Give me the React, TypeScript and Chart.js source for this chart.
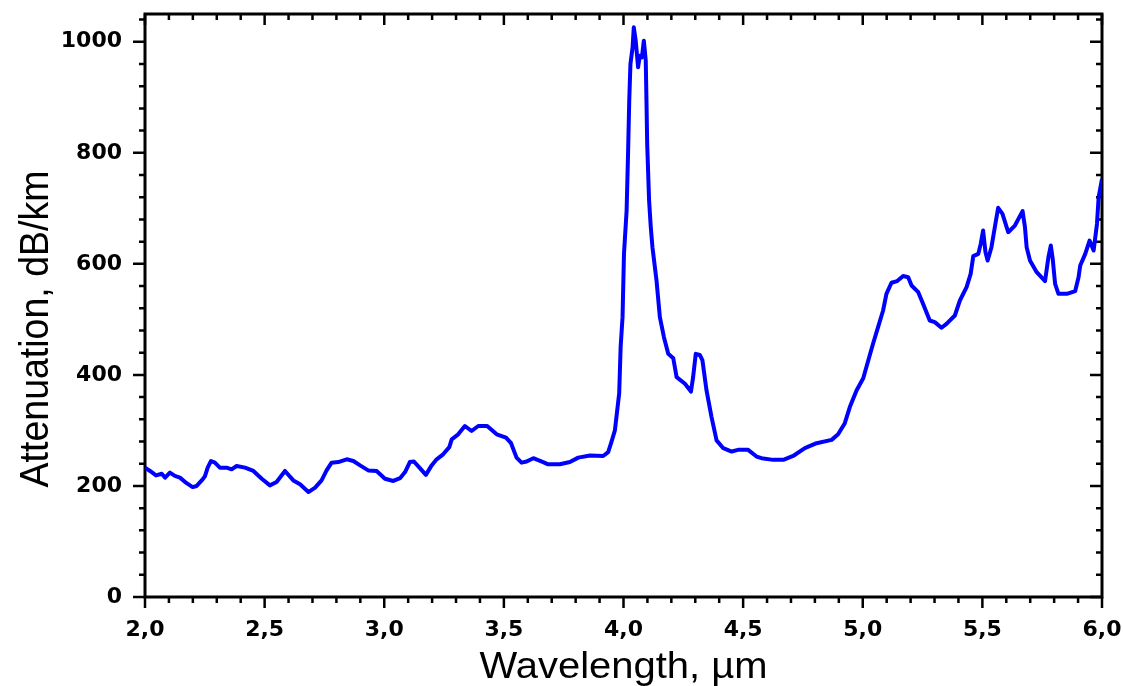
import React, { useEffect, useRef } from 'react';
import { Chart, registerables } from 'chart.js';

Chart.register(...registerables);

// Wavelength (µm) of each sampled point of the spectrum
const wavelengthUm = [
  2.0, 2.021, 2.046, 2.07, 2.084, 2.104, 2.125, 2.146, 2.174, 2.199, 2.216, 2.237, 2.25, 2.262, 2.276, 2.292,
  2.313, 2.341, 2.362, 2.383, 2.418, 2.453, 2.488, 2.522, 2.55, 2.585, 2.62, 2.648, 2.683, 2.711, 2.738, 2.759,
  2.78, 2.808, 2.843, 2.871, 2.899, 2.933, 2.968, 3.003, 3.038, 3.066, 3.087, 3.107, 3.124, 3.149, 3.174, 3.198,
  3.219, 3.246, 3.272, 3.282, 3.309, 3.337, 3.365, 3.393, 3.43, 3.47, 3.509, 3.53, 3.553, 3.574, 3.595, 3.623,
  3.664, 3.685, 3.734, 3.776, 3.811, 3.86, 3.915, 3.936, 3.95, 3.964, 3.982, 3.988, 3.996, 4.002, 4.013, 4.019,
  4.024, 4.029, 4.038, 4.043, 4.051, 4.061, 4.068, 4.077, 4.085, 4.093, 4.096, 4.099, 4.107, 4.114, 4.121, 4.138,
  4.152, 4.169, 4.187, 4.208, 4.222, 4.257, 4.282, 4.291, 4.302, 4.319, 4.33, 4.347, 4.368, 4.389, 4.417, 4.452,
  4.479, 4.521, 4.556, 4.577, 4.626, 4.668, 4.709, 4.758, 4.807, 4.87, 4.897, 4.925, 4.946, 4.974, 5.002, 5.023,
  5.043, 5.064, 5.085, 5.099, 5.12, 5.144, 5.169, 5.19, 5.204, 5.232, 5.252, 5.28, 5.301, 5.329, 5.35, 5.385,
  5.406, 5.434, 5.451, 5.462, 5.483, 5.493, 5.503, 5.513, 5.522, 5.538, 5.552, 5.566, 5.584, 5.608, 5.636, 5.668,
  5.678, 5.685, 5.699, 5.727, 5.762, 5.776, 5.786, 5.794, 5.804, 5.818, 5.853, 5.888, 5.902, 5.909, 5.93, 5.948,
  5.965, 5.979, 5.986, 6.0,
];

// Attenuation (dB/km) at each wavelength above
const attenuationDbKm = [
  233, 227, 219, 222, 215, 224, 218, 215, 205, 198, 200, 210, 217, 233, 245, 242,
  233, 233, 230, 236, 233, 227, 213, 201, 207, 227, 210, 203, 189, 197, 210, 228,
  242, 243, 248, 245, 237, 228, 227, 213, 209, 214, 225, 243, 244, 232, 220, 237,
  248, 257, 270, 284, 293, 308, 299, 308, 308, 293, 287, 277, 251, 242, 244, 250,
  243, 239, 239, 243, 251, 255, 254, 261, 280, 300, 367, 450, 504, 618, 696, 798,
  894, 960, 990, 1026, 1002, 954, 975, 972, 1002, 966, 894, 816, 714, 666, 630, 570,
  504, 468, 438, 430, 396, 384, 370, 396, 438, 436, 426, 372, 324, 282, 268, 262,
  265, 265, 253, 250, 247, 247, 254, 268, 277, 283, 293, 313, 342, 372, 394, 426,
  456, 486, 516, 546, 566, 569, 578, 576, 561, 549, 528, 498, 495, 485, 492, 507,
  534, 558, 582, 614, 618, 636, 660, 621, 606, 630, 666, 701, 690, 657, 669, 695,
  666, 630, 606, 585, 569, 612, 633, 609, 564, 546, 546, 551, 576, 597, 618, 642,
  624, 672, 720, 753,
];

// Axis ranges and tick steps
const xRange = [2.0, 6.0];
const yRange = [0, 1050];
const xMajorStep = 0.5;
const xMinorStep = 0.1;
const yMajorStep = 200;
const yMinorStep = 40;

const xTitle = 'Wavelength, µm';
const yTitle = 'Attenuation, dB/km';

const decorPlugin = {
  id: 'decor',
  beforeDatasetsDraw(chart: any) {
    const { ctx, chartArea: a, scales } = chart;
    const xs = scales.x;
    const ys = scales.y;
    ctx.save();
    ctx.strokeStyle = '#000';
    ctx.lineWidth = 2.5;
    ctx.beginPath();
    const nx = Math.round((xRange[1] - xRange[0]) / xMinorStep);
    const perX = Math.round(xMajorStep / xMinorStep);
    for (let i = 0; i <= nx; i++) {
      const px = xs.getPixelForValue(xRange[0] + i * xMinorStep);
      const len = i % perX === 0 ? 11 : 6;
      ctx.moveTo(px, a.bottom);
      ctx.lineTo(px, a.bottom + len);
      ctx.moveTo(px, a.top);
      ctx.lineTo(px, a.top + len);
    }
    const perY = Math.round(yMajorStep / yMinorStep);
    for (let i = 0; yRange[0] + i * yMinorStep <= yRange[1]; i++) {
      const py = ys.getPixelForValue(yRange[0] + i * yMinorStep);
      const len = i % perY === 0 ? 12 : 6;
      ctx.moveTo(a.left - len, py);
      ctx.lineTo(a.left, py);
      ctx.moveTo(a.right - len, py);
      ctx.lineTo(a.right, py);
    }
    ctx.stroke();
    ctx.lineWidth = 3;
    ctx.strokeRect(a.left, a.top, a.right - a.left, a.bottom - a.top);
    ctx.restore();
  },
  afterDraw(chart: any) {
    const { ctx, chartArea: a } = chart;
    ctx.save();
    ctx.fillStyle = '#000';
    ctx.textAlign = 'center';
    ctx.textBaseline = 'alphabetic';
    // x-axis title
    ctx.font = '36px "Liberation Sans", Arial, sans-serif';
    ctx.save();
    ctx.translate((a.left + a.right) / 2, 678);
    ctx.scale(1.11, 1);
    ctx.fillText(xTitle, 0, 0);
    ctx.restore();
    // y-axis title
    ctx.font = '37.5px "Liberation Sans", Arial, sans-serif';
    ctx.save();
    ctx.translate(48, 329);
    ctx.rotate(-Math.PI / 2);
    ctx.scale(1, 1.1);
    ctx.fillText(yTitle, 0, 0);
    ctx.restore();
    ctx.restore();
  },
};

export default function App() {
  const canvasRef = useRef<HTMLCanvasElement | null>(null);

  useEffect(() => {
    if (!canvasRef.current) return;
    const points = wavelengthUm.map((x, i) => ({ x, y: attenuationDbKm[i] }));
    const tickFont = { family: '"DejaVu Sans", sans-serif', size: 22, weight: 'bold' as const };
    const chart = new Chart(canvasRef.current, {
      type: 'line',
      data: {
        datasets: [
          {
            label: 'Attenuation',
            data: points,
            borderColor: '#0000ff',
            borderWidth: 4,
            pointRadius: 0,
            tension: 0,
            fill: false,
            borderJoinStyle: 'round',
          },
        ],
      },
      options: {
        animation: false,
        responsive: true,
        maintainAspectRatio: false,
        layout: { padding: { top: 14, right: 22, left: 0, bottom: 0 } },
        plugins: { legend: { display: false }, tooltip: { enabled: false } },
        scales: {
          x: {
            type: 'linear',
            position: 'bottom',
            min: xRange[0],
            max: xRange[1],
            grid: { display: false, drawTicks: false },
            border: { display: false },
            ticks: {
              stepSize: xMajorStep,
              color: '#000',
              font: tickFont,
              padding: 20,
              maxRotation: 0,
              callback: (v: any) => Number(v).toFixed(1).replace('.', ','),
            },
            afterFit: (s: any) => {
              s.height = 89;
              s.paddingLeft = 0;
              s.paddingRight = 0;
            },
          },
          y: {
            type: 'linear',
            position: 'left',
            min: yRange[0],
            max: yRange[1],
            grid: { display: false, drawTicks: false },
            border: { display: false },
            ticks: {
              stepSize: yMajorStep,
              includeBounds: false,
              color: '#000',
              font: tickFont,
              padding: 23,
              callback: (v: any) => String(v),
            },
            afterFit: (s: any) => {
              s.width = 145;
              s.paddingTop = 0;
              s.paddingBottom = 0;
            },
          },
        },
      },
      plugins: [decorPlugin],
    });
    return () => chart.destroy();
  }, []);

  return (
    <div style={{ position: 'fixed', left: 0, top: 0, width: 1124, height: 686, background: '#fff' }}>
      <canvas ref={canvasRef} />
    </div>
  );
}
